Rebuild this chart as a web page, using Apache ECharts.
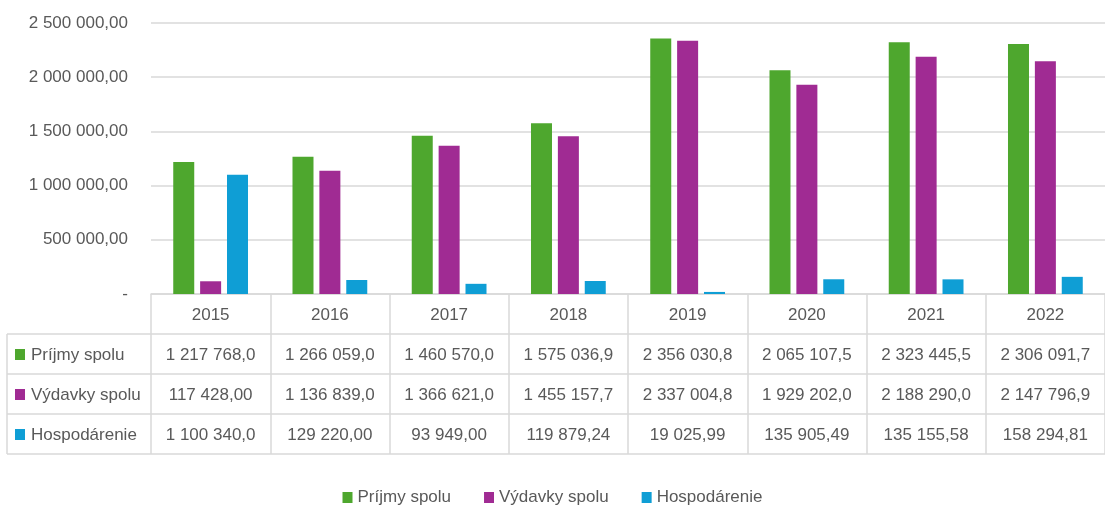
<!DOCTYPE html>
<html>
<head>
<meta charset="utf-8">
<script src="https://cdn.jsdelivr.net/npm/echarts@6/dist/echarts.min.js"></script>
<style>
  html, body { margin: 0; padding: 0; background: #fff; }
  #chart { width: 1105px; height: 507px; }
</style>
</head>
<body>
<div id="chart"></div>
<script>
//----------------------Data----------------------
let years = ['2015', '2016', '2017', '2018', '2019', '2020', '2021', '2022'];
let series_names = ['Príjmy spolu', 'Výdavky spolu', 'Hospodárenie'];
let prijmy = [1217768.0, 1266059.0, 1460570.0, 1575036.9, 2356030.8, 2065107.5, 2323445.5, 2306091.7];
let vydavky = [117428.00, 1136839.0, 1366621.0, 1455157.7, 2337004.8, 1929202.0, 2188290.0, 2147796.9];
let hospodarenie = [1100340.0, 129220.00, 93949.00, 119879.24, 19025.99, 135905.49, 135155.58, 158294.81];
// decimals shown in the data table (as Excel shows them)
let prijmy_dec = [1, 1, 1, 1, 1, 1, 1, 1];
let vydavky_dec = [2, 1, 1, 1, 1, 1, 1, 1];
let hospodarenie_dec = [1, 2, 2, 2, 2, 2, 2, 2];
let y_max = 2500000;
let y_step = 500000;

//--------------------Style--------------------
let font = '"Liberation Sans", Arial, sans-serif';
let text_color = '#595959';
let line_color = '#D9D9D9';
let colors = ['#4EA72E', '#A02B93', '#0F9ED5'];
let font_size = 17;
let row_h = 40;

function fmt(v, d) {
    let s = v.toFixed(d).split('.');
    let i = s[0].replace(/\B(?=(\d{3})+(?!\d))/g, ' ');
    return s.length > 1 ? i + ',' + s[1] : i;
}

let chart = echarts.init(document.getElementById('chart'));

let grid_left = 151, grid_top = 23, grid_bottom = 213;
let axis_y = 507 - grid_bottom;

//--------------------Table (lines + row headers)--------------------
let table_graphics = [];
for (let r = 1; r <= 4; r++) {
    let y = axis_y + r * row_h;
    table_graphics.push({
        type: 'line', shape: {x1: 7, y1: y, x2: 1105, y2: y},
        style: {stroke: line_color, lineWidth: 1.5}
    });
}
table_graphics.push({
    type: 'line', shape: {x1: 7, y1: axis_y + row_h, x2: 7, y2: axis_y + 4 * row_h},
    style: {stroke: line_color, lineWidth: 1.5}
});
series_names.forEach(function (name, k) {
    let cy = axis_y + row_h * (k + 1) + row_h / 2;
    table_graphics.push({
        type: 'rect', shape: {x: 15, y: cy - 5, width: 10, height: 11},
        style: {fill: colors[k]}
    });
    table_graphics.push({
        type: 'text', x: 31, y: cy + 1,
        style: {text: name, fill: text_color, font: font_size + 'px ' + font, textVerticalAlign: 'middle'}
    });
});

//---------------------Series---------------------
let series_data = [prijmy, vydavky, hospodarenie];
let series_list = series_names.map(function (name, k) {
    return {
        name: name,
        type: 'bar',
        barWidth: 21,
        barGap: '28%',
        itemStyle: {color: colors[k]},
        data: series_data[k]
    };
});

let option = {
    backgroundColor: '#fff',
    animation: false,
    textStyle: {fontFamily: font},
    grid: {left: grid_left, right: 0, top: grid_top, bottom: grid_bottom},
    xAxis: {
        type: 'category',
        data: years,
        axisLine: {lineStyle: {color: line_color, width: 1.5}},
        axisTick: {show: true, length: 4 * row_h, lineStyle: {color: line_color, width: 1.5}},
        axisLabel: {
            interval: 0,
            margin: 1,
            lineHeight: row_h,
            fontSize: font_size,
            color: text_color,
            fontFamily: font,
            formatter: function (v, i) {
                return [v,
                    fmt(prijmy[i], prijmy_dec[i]),
                    fmt(vydavky[i], vydavky_dec[i]),
                    fmt(hospodarenie[i], hospodarenie_dec[i])].join('\n');
            }
        }
    },
    yAxis: {
        type: 'value',
        min: 0,
        max: y_max,
        interval: y_step,
        axisLine: {show: false},
        axisTick: {show: false},
        splitLine: {lineStyle: {color: line_color, width: 1.5}},
        axisLabel: {
            margin: 23,
            fontSize: font_size,
            color: text_color,
            fontFamily: font,
            formatter: function (v) { return v === 0 ? '-' : fmt(v, 2); }
        }
    },
    legend: {
        bottom: -4,
        left: 'center',
        icon: 'rect',
        itemWidth: 10,
        itemHeight: 11,
        itemGap: 33,
        textStyle: {fontSize: font_size, color: text_color, fontFamily: font},
        data: series_names
    },
    graphic: table_graphics,
    series: series_list
};
chart.setOption(option, true);
</script>
</body>
</html>
